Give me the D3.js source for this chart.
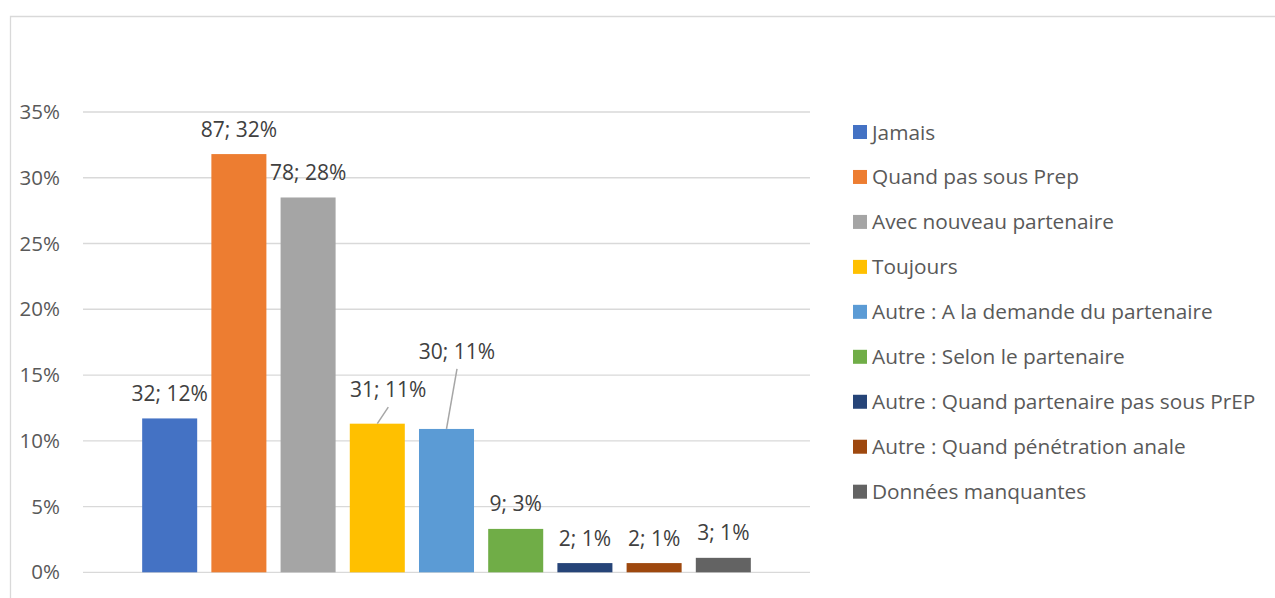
<!DOCTYPE html>
<html>
<head>
<meta charset="utf-8">
<script src="https://cdn.jsdelivr.net/npm/d3@7"></script>
<style>
  body { margin: 0; background: #fff; }
  svg { display: block; font-family: "Open Sans", "Noto Sans", sans-serif; }
</style>
</head>
<body>
<div id="chart"></div>
<script>
const categories = [
  "Jamais",
  "Quand pas sous Prep",
  "Avec nouveau partenaire",
  "Toujours",
  "Autre : A la demande du partenaire",
  "Autre : Selon le partenaire",
  "Autre : Quand partenaire pas sous PrEP",
  "Autre : Quand pénétration anale",
  "Données manquantes"
];
const counts   = [32, 87, 78, 31, 30, 9, 2, 2, 3];
const percents = [11.7, 31.8, 28.5, 11.3, 10.9, 3.3, 0.7, 0.7, 1.1];
const pctLabels = ["12%", "32%", "28%", "11%", "11%", "3%", "1%", "1%", "1%"];
const yTicks = [0, 5, 10, 15, 20, 25, 30, 35];

const colors = ["#4472c4", "#ed7d31", "#a5a5a5", "#ffc000", "#5b9bd5",
                "#70ad47", "#264478", "#9e480e", "#636363"];

const W = 1275, H = 598;
const plot = {left: 83, right: 810, top: 112, bottom: 572.3};

const svg = d3.select("#chart").append("svg")
    .attr("width", W)
    .attr("height", H);

// chart frame
svg.append("path")
    .attr("d", `M10.5,${H} V16.5 H${W}`)
    .attr("fill", "none")
    .attr("stroke", "#d9d9d9")
    .attr("stroke-width", 1.3);

const y = d3.scaleLinear()
    .domain([0, 35])
    .range([plot.bottom, plot.top]);

const x = d3.scaleBand()
    .domain(categories)
    .range([plot.left, plot.right])
    .paddingInner(0.205)
    .paddingOuter(0.855);

// gridlines
svg.append("g")
  .selectAll("line")
  .data(yTicks)
  .enter()
  .append("line")
    .attr("x1", plot.left)
    .attr("x2", plot.right)
    .attr("y1", d => y(d))
    .attr("y2", d => y(d))
    .attr("stroke", "#d9d9d9")
    .attr("stroke-width", 1.3);

// y axis labels (no domain line)
const yAxis = d3.axisLeft(y)
    .tickValues(yTicks)
    .tickSize(0)
    .tickPadding(0)
    .tickFormat(d => d + "%");

svg.append("g")
    .attr("transform", "translate(60,0)")
    .call(yAxis)
    .call(g => g.select(".domain").remove())
    .call(g => g.selectAll("text")
        .attr("font-family", "\"Open Sans\", sans-serif")
        .attr("font-size", "20.5px")
        .attr("fill", "#595959"));

const data = categories.map((c, i) => ({
  name: c, count: counts[i], pct: percents[i], label: pctLabels[i], color: colors[i], i
}));

// bars
svg.append("g")
  .selectAll("rect")
  .data(data)
  .enter()
  .append("rect")
    .attr("x", d => x(d.name))
    .attr("y", d => y(d.pct))
    .attr("width", x.bandwidth())
    .attr("height", d => y(0) - y(d.pct))
    .attr("fill", d => d.color);

// labels moved off their bars (Toujours, A la demande) get a leader line
const labelShift = {3: [11, -9], 4: [10.5, -52.6]};

const labelPos = (d) => {
  const s = labelShift[d.i] || [0, 0];
  return [x(d.name) + x.bandwidth() / 2 + s[0], y(d.pct) - 25 + s[1]];
};

svg.append("g")
  .selectAll("line")
  .data(data.filter(d => labelShift[d.i]))
  .enter()
  .append("line")
    .attr("x1", d => labelPos(d)[0])
    .attr("y1", d => labelPos(d)[1] + 17.5)
    .attr("x2", d => x(d.name) + x.bandwidth() / 2)
    .attr("y2", d => y(d.pct))
    .attr("stroke", "#a6a6a6")
    .attr("stroke-width", 1.5);

svg.append("g")
  .selectAll("text")
  .data(data)
  .enter()
  .append("text")
    .attr("x", d => labelPos(d)[0])
    .attr("y", d => labelPos(d)[1] + 7.5)
    .attr("text-anchor", "middle")
    .attr("font-size", "21px")
    .attr("fill", "#404040")
    .text(d => `${d.count}; ${d.label}`);

// legend
const legend = svg.append("g")
    .attr("transform", "translate(853,132)");

const rows = legend.selectAll("g")
  .data(data)
  .enter()
  .append("g")
    .attr("transform", (d, i) => `translate(0,${i * 44.96})`);

rows.append("rect")
    .attr("x", 0)
    .attr("y", -7)
    .attr("width", 14)
    .attr("height", 14)
    .attr("fill", d => d.color);

rows.append("text")
    .attr("x", 19)
    .attr("y", 7.5)
    .attr("font-size", "20.8px")
    .attr("fill", "#595959")
    .text(d => d.name);
</script>
</body>
</html>
